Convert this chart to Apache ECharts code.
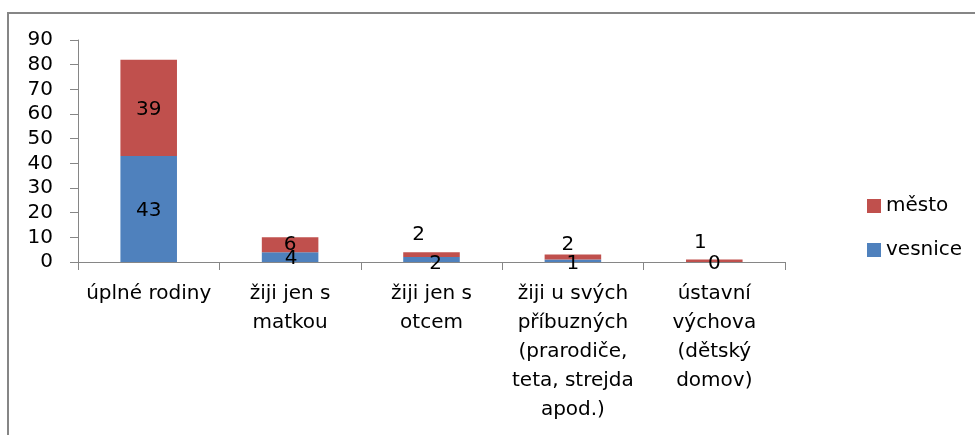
<!DOCTYPE html>
<html>
<head>
    <meta charset="utf-8">
    <title>rodiny</title>
    <script src="https://cdn.jsdelivr.net/npm/echarts@6/dist/echarts.min.js"></script>
    <style>
        body { margin: 0; background: #fff; }
    </style>
</head>
<body>
  <div id="main" style="width: 975px;height:435px;"></div>
  <script>
      // data
      var categories = ['úplné rodiny', 'žiji jen s\nmatkou', 'žiji jen s\notcem',
          'žiji u svých\npříbuzných\n(prarodiče,\nteta, strejda\napod.)', 'ústavní\nvýchova\n(dětský\ndomov)'];
      var vesnice = [43, 4, 2, 1, 0];
      var mesto = [39, 6, 2, 2, 1];
      var yTicks = [0, 10, 20, 30, 40, 50, 60, 70, 80, 90];

      // posunuti popisku (jako v puvodnim grafu)
      var shiftVesnice = [[0, 2], [1, 2], [4, 4], [0, 3], [0, 2]];
      var shiftMesto = [[0, 2], [0, 0], [-13, -20], [-5, -12], [-14, -18]];

      var font = 'DejaVu Sans';
      var labelBase = { show: true, position: 'inside', color: '#000', fontSize: 20, fontFamily: font };

      function items(values, shifts) {
          return values.map(function (v, i) {
              return { value: v, label: { offset: shifts[i] } };
          });
      }

      var myChart = echarts.init(document.getElementById('main'));
      var option = {
          animation: false,
          graphic: [{
              type: 'rect',
              shape: { x: 8, y: 13, width: 1000, height: 500 },
              style: { fill: 'none', stroke: '#868686', lineWidth: 2 }
          }],
          grid: { left: 78, right: 190, top: 40, bottom: 173 },
          legend: {
              orient: 'vertical',
              left: 862, top: 191,
              itemWidth: 14, itemHeight: 14, itemGap: 24,
              icon: 'rect',
              data: ['město', 'vesnice'],
              textStyle: { fontSize: 20, fontFamily: font, color: '#000' }
          },
          xAxis: {
              type: 'category',
              data: categories,
              axisLine: { lineStyle: { color: '#868686' } },
              axisTick: { show: true, length: 8, lineStyle: { color: '#868686' } },
              axisLabel: { color: '#000', fontSize: 20, fontFamily: font, lineHeight: 29, interval: 0, margin: 17 }
          },
          yAxis: {
              type: 'value',
              min: yTicks[0], max: yTicks[yTicks.length - 1], interval: 10,
              splitLine: { show: false },
              axisLine: { show: true, lineStyle: { color: '#868686' } },
              axisTick: { show: true, length: 8, lineStyle: { color: '#868686' } },
              axisLabel: { color: '#000', fontSize: 20, fontFamily: font, margin: 25 }
          },
          series: [{
              name: 'vesnice',
              type: 'bar',
              stack: 'a',
              barWidth: '40%',
              itemStyle: { color: '#4F81BD' },
              label: labelBase,
              data: items(vesnice, shiftVesnice)
          }, {
              name: 'město',
              type: 'bar',
              stack: 'a',
              itemStyle: { color: '#C0504D' },
              label: labelBase,
              data: items(mesto, shiftMesto)
          }]
      };
      myChart.setOption(option);
  </script>
</body>
</html>
